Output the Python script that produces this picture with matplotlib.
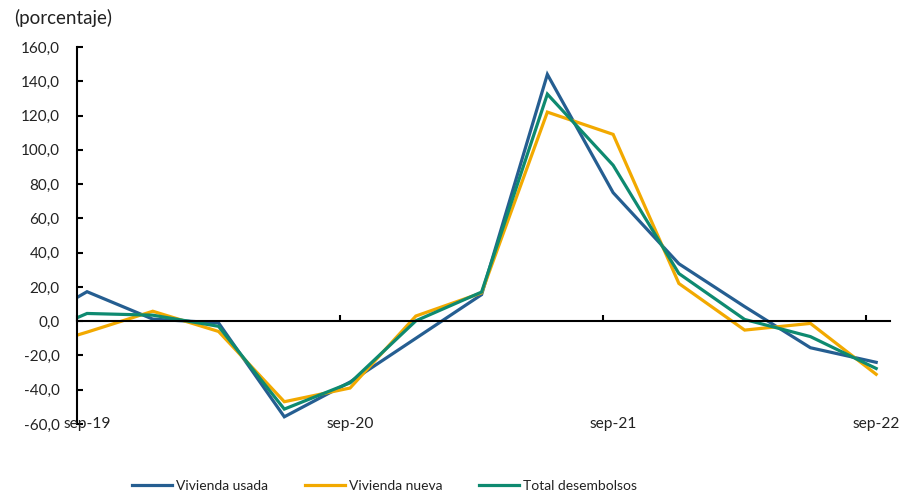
import matplotlib
matplotlib.use("Agg")
import matplotlib.pyplot as plt
from matplotlib.ticker import FuncFormatter, FixedLocator

# Quarterly data; first entry (jun-19) lies just left of the visible range
quarters = ["jun-19", "sep-19", "dic-19", "mar-20", "jun-20", "sep-20", "dic-20",
            "mar-21", "jun-21", "sep-21", "dic-21", "mar-22", "jun-22", "sep-22"]
usada = [-5.0, 17.2, 1.2, -1.0, -55.8, -35.5, -10.0, 15.5, 144.0, 75.0, 33.5, 8.5, -15.5, -24.0]
nueva = [-18.0, -6.4, 5.8, -6.0, -47.0, -39.0, 3.0, 16.5, 122.0, 109.0, 22.0, -5.2, -1.3, -31.0]
total = [-12.0, 4.5, 3.5, -3.0, -51.3, -36.0, 0.2, 17.0, 132.5, 91.0, 27.8, 1.0, -9.0, -27.6]
x_labels = ["sep-19", "sep-20", "sep-21", "sep-22"]
y_ticks = [-60, -40, -20, 0, 20, 40, 60, 80, 100, 120, 140, 160]

FONT = ["Lato", "DejaVu Sans"]
plt.rcParams['font.family'] = FONT
TXT = "#222222"

fig = plt.figure(figsize=(9.04, 4.94), dpi=100)
ax = fig.add_axes([0.0852, 0.1417, 0.9845 - 0.0852, 0.9049 - 0.1417])

xs = [i - 1 for i in range(len(quarters))]
ax.plot(xs, usada, color="#255E91", lw=2.3, label="Vivienda usada", solid_joinstyle="miter")
ax.plot(xs, nueva, color="#F2A900", lw=2.3, label="Vivienda nueva", solid_joinstyle="miter")
ax.plot(xs, total, color="#0E8A70", lw=2.3, label="Total desembolsos", solid_joinstyle="miter")

ax.set_xlim(-0.152, 12.21)
ax.set_ylim(-60, 160)

for s in ["top", "right"]:
    ax.spines[s].set_visible(False)
ax.spines["bottom"].set_position(("data", 0))
ax.spines["bottom"].set_linewidth(1.5)
ax.spines["left"].set_linewidth(1.5)

ax.yaxis.set_major_locator(FixedLocator(y_ticks))
ax.yaxis.set_major_formatter(FuncFormatter(lambda v, p: f"{v:.1f}".replace(".", ",")))
ax.tick_params(axis="y", direction="in", length=4, width=1.5, pad=12.5,
               labelsize=11, labelcolor=TXT)

label_pos = [xs[quarters.index(l)] for l in x_labels]
boundaries = [p - 0.152 for p in label_pos]
ax.set_xticks(boundaries)
ax.set_xticklabels([])
ax.tick_params(axis="x", direction="in", length=4, width=1.5)
for p, l in zip(label_pos, x_labels):
    ax.text(p, 0.0, l, transform=ax.get_xaxis_transform(), ha="center", va="center",
            fontsize=11.2, color=TXT)

fig.text(0.0155, 0.963, "(porcentaje)", fontsize=13.5, color=TXT, va="center", ha="left")

fs_leg = 10
leg = fig.legend(loc="center left", ncol=3, frameon=False,
                 fontsize=fs_leg, handlelength=2.9, handletextpad=0.3, columnspacing=2.6,
                 borderpad=0.0, borderaxespad=0.0)
for t in leg.get_texts():
    t.set_color(TXT)
leg.set_bbox_to_anchor((132 / 904, 1 - 486 / 494), transform=fig.transFigure)

fig.savefig("out.png", dpi=100)
